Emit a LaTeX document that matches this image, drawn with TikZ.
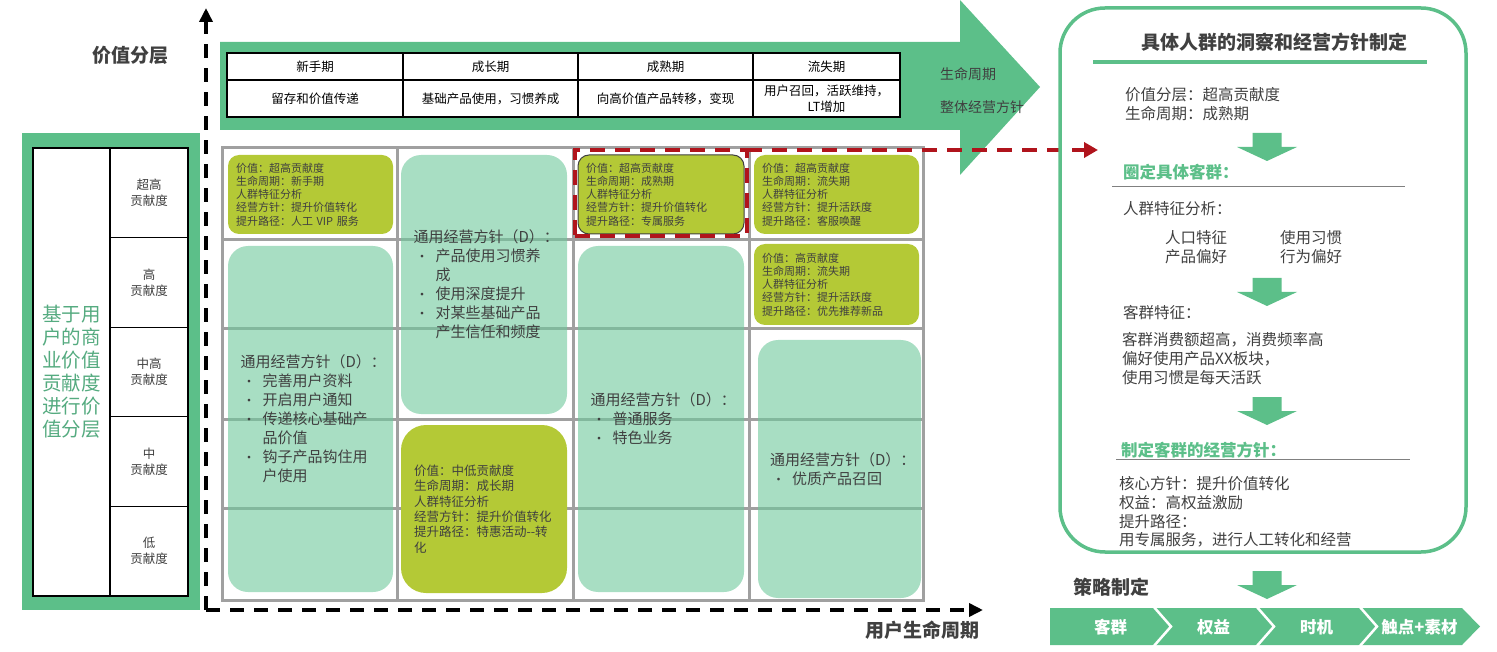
\documentclass[tikz,border=0pt]{standalone}
\usepackage{fontspec}
\setmainfont{Noto Sans CJK SC}
\usetikzlibrary{arrows.meta,positioning}
\definecolor{bandgreen}{HTML}{5CBF89}
\definecolor{mintfill}{HTML}{6EC89B}
\definecolor{olive}{HTML}{B4C936}
\definecolor{inkgray}{HTML}{404040}
\definecolor{labelgreen}{HTML}{55AB80}
\definecolor{gridgray}{HTML}{A0A0A0}
\definecolor{hlred}{HTML}{B0141C}
\newcommand{\bul}{\hspace*{2pt}\makebox[20pt][l]{\fontsize{13}{13}\selectfont •}}
\newcommand{\bcont}{\hspace*{22pt}}

\tikzset{
  downarr/.pic={\fill[bandgreen] (-14.5,0) -- (14.5,0) -- (14.5,14) -- (30,14) -- (0,28) -- (-30,14) -- (-14.5,14) -- cycle;}
}

\begin{document}
\begin{tikzpicture}[x=1pt,y=-1pt,
  tcell/.style={draw=black,line width=1.2pt,fill=white,inner sep=0pt,align=center,text=black,font=\fontsize{12.5}{16}\selectfont},
  lcell/.style={draw=black,line width=1.2pt,fill=white,inner sep=0pt,minimum width=78pt,minimum height=89.6pt,align=center,text=inkgray,font=\fontsize{12.5}{16}\selectfont},
  olivebox/.style={fill=olive,rounded corners=11pt,inner xsep=8pt,inner ysep=0pt,align=left,text=inkgray,font=\fontsize{11}{13.3}\selectfont},
  mintbox/.style={fill=mintfill,fill opacity=0.6,text opacity=1,rounded corners=20pt,inner xsep=12.5pt,inner ysep=0pt,align=left,text=inkgray,font=\fontsize{15}{19}\selectfont},
  axis/.style={line width=4pt,dash pattern=on 14pt off 10pt,-{Triangle[length=14pt,width=13pt]}},
  axislabel/.style={text=inkgray,font=\fontsize{19}{22}\bfseries},
  body/.style={anchor=west,inner sep=0pt,align=left,text=inkgray,font=\fontsize{15.5}{18.8}\selectfont},
  head/.style={anchor=west,inner sep=0pt,text=bandgreen,font=\fontsize{16.5}{20}\bfseries},
  chev/.style={text=white,font=\fontsize{16.5}{20}\bfseries}]
\useasboundingbox (0,0) rectangle (1497,652);

% axes
\coordinate (origin) at (206,610);
\coordinate (ytip) at (206,8);
\coordinate (xtip) at (983,610);
\draw[axis] (origin) -- (ytip);
\draw[axis] (origin) -- (xtip);
\node[axislabel] (ylab) at (130,55) {价值分层};
\node[axislabel] (xlab) at (922,630) {用户生命周期};

% lifecycle band
\fill[bandgreen] (220,42) -- (960,42) -- (960,0) -- (1040,87) -- (960,175) -- (960,130) -- (220,130) -- cycle;
\foreach \cx/\cw/\stage/\goal [count=\i] in {315/176/新手期/留存和价值传递, 490.5/175/成长期/基础产品使用，习惯养成, 665.5/175/成熟期/向高价值产品转移，变现, 826.5/147/流失期/{用户召回，活跃维持，\\LT增加}}{
  \node[tcell,minimum width=\cw pt,minimum height=27pt] (stage\i) at (\cx,66.5) {\stage};
  \node[tcell,minimum width=\cw pt,minimum height=37pt] (goal\i) at (\cx,98.5) {\goal};
}
\node[anchor=west,inner sep=0pt,text=inkgray,font=\fontsize{14}{16}\selectfont] (lifelab) at (940,74) {生命周期};
\node[anchor=west,inner sep=0pt,text=inkgray,font=\fontsize{14}{16}\selectfont] (goallab) at (940,107) {整体经营方针};

% value layers
\node[fill=bandgreen,minimum width=178pt,minimum height=477pt,inner sep=0pt] (lbox) at (111,371.5) {};
\node[lcell,minimum width=77pt,minimum height=448pt,text=labelgreen,font=\fontsize{19.5}{23}\selectfont] (lname) at (71.5,372) {基于用\\户的商\\业价值\\贡献度\\进行价\\值分层};
\foreach \lv [count=\i] in {超高,高,中高,中,低}
  \node[lcell] (lv\i) at (149,{148+44.8*(2*\i-1)}) {\lv\\贡献度};

% grid
\draw[gridgray,line width=3pt] (222,148) rectangle (923,600);
\foreach \gx in {397,573,749} \draw[gridgray,line width=3pt] (\gx,148) -- (\gx,600);
\foreach \gy in {240,329,419,508} \draw[gridgray,line width=3pt] (222,\gy) -- (923,\gy);

% general policy cells
\node[mintbox,minimum width=165pt,minimum height=346pt,text width=140pt] (genNew) at (310.5,419) {通用经营方针（D）：\\\bul 完善用户资料\\\bul 开启用户通知\\\bul 传递核心基础产\\\bcont 品价值\\\bul 钩子产品钩住用\\\bcont 户使用};
\node[mintbox,minimum width=166pt,minimum height=259pt,text width=141pt] (genGrow) at (484,284.5) {通用经营方针（D）：\\\bul 产品使用习惯养\\\bcont 成\\\bul 使用深度提升\\\bul 对某些基础产品\\\bcont 产生信任和频度};
\node[mintbox,minimum width=166pt,minimum height=346pt,text width=141pt] (genMature) at (661,419) {通用经营方针（D）：\\\bul 普通服务\\\bul 特色业务};
\node[mintbox,minimum width=163pt,minimum height=258pt,text width=139pt,inner xsep=12pt] (genLost) at (839.5,469) {通用经营方针（D）：\\\bul 优质产品召回};

% segment cells
\node[olivebox,minimum width=165pt,minimum height=79pt,text width=149pt] (segNew) at (310.5,194.5) {价值：超高贡献度\\生命周期：新手期\\人群特征分析\\经营方针：提升价值转化\\提升路径：人工 VIP 服务};
\node[olivebox,minimum width=166pt,minimum height=168pt,text width=140pt,inner xsep=13pt,rounded corners=25pt,font=\fontsize{12.5}{15.3}\selectfont] (segGrow) at (484,509) {价值：中低贡献度\\生命周期：成长期\\人群特征分析\\经营方针：提升价值转化\\提升路径：特惠活动-{}-转\\化};
\node[olivebox,draw=inkgray,line width=1pt,minimum width=166pt,minimum height=79pt,text width=150pt] (segMature) at (661,194.5) {价值：超高贡献度\\生命周期：成熟期\\人群特征分析\\经营方针：提升价值转化\\提升路径：专属服务};
\node[olivebox,minimum width=165pt,minimum height=79pt,text width=149pt] (segLostA) at (836.5,194.5) {价值：超高贡献度\\生命周期：流失期\\人群特征分析\\经营方针：提升活跃度\\提升路径：客服唤醒};
\node[olivebox,minimum width=165pt,minimum height=81pt,text width=149pt] (segLostB) at (836.5,284.5) {价值：高贡献度\\生命周期：流失期\\人群特征分析\\经营方针：提升活跃度\\提升路径：优先推荐新品};

% highlight and link
\node[draw=hlred,line width=4pt,dash pattern=on 15pt off 10pt,outer sep=0pt,minimum width=172pt,minimum height=86pt] (hl) at (661,193) {};
\coordinate (tgt) at (1098,150);
\draw[hlred,line width=4pt,dash pattern=on 15pt off 10pt,-{Triangle[length=14pt,width=15pt]}] (hl.north east) -- (tgt);

% insight panel
\node[draw=bandgreen,line width=3.5pt,rounded corners=45pt,minimum width=406pt,minimum height=544pt] (panel) at (1263,280) {};
\node[text=inkgray,font=\fontsize{19}{22}\bfseries] (ptitle) at (1274,42) {具体人群的洞察和经营方针制定};
\draw[bandgreen,line width=3.5pt] (1093,62) -- (1427,62);
\node[body] (pinfo) at (1125,104) {价值分层：超高贡献度\\生命周期：成熟期};
\pic at (1267,133) {downarr};
\node[head] (pselect) at (1123,172) {圈定具体客群：};
\draw[gray,line width=0.8pt] (1112,186) -- (1405,186);
\node[body] (pfeat) at (1123,209) {人群特征分析：};
\node[body] (pfa) at (1165,247.5) {人口特征\\产品偏好};
\node[body] (pfb) at (1280,247.5) {使用习惯\\行为偏好};
\pic at (1267,278) {downarr};
\node[body] (pcust) at (1123,313) {客群特征：};
\node[body] (pcustd) at (1122,358.5) {客群消费额超高，消费频率高\\偏好使用产品XX板块，\\使用习惯是每天活跃};
\pic at (1267,397) {downarr};
\node[head] (ppolicy) at (1121,450) {制定客群的经营方针：};
\draw[gray,line width=0.8pt] (1116,459) -- (1410,459);
\node[body] (pplan) at (1119,512) {核心方针：提升价值转化\\权益：高权益激励\\提升路径：\\用专属服务，进行人工转化和经营};

% strategy bar
\pic at (1267,571) {downarr};
\node[anchor=west,inner sep=0pt,text=inkgray,font=\fontsize{19}{22}\bfseries] (strat) at (1073,587) {策略制定};
\fill[bandgreen] (1050,608) -- (1462,608) -- (1480,626.5) -- (1462,645) -- (1050,645) -- cycle;
\foreach \k in {1,2,3}
  \draw[white,line width=2.5pt] ({1050+103*\k},606) -- ({1068+103*\k},626.5) -- ({1050+103*\k},647);
\foreach \sx/\st [count=\i] in {1110.5/客群,1213.5/权益,1316.5/时机,1419.5/触点+素材}
  \node[chev] (chev\i) at (\sx,627) {\st};
\end{tikzpicture}
\end{document}
